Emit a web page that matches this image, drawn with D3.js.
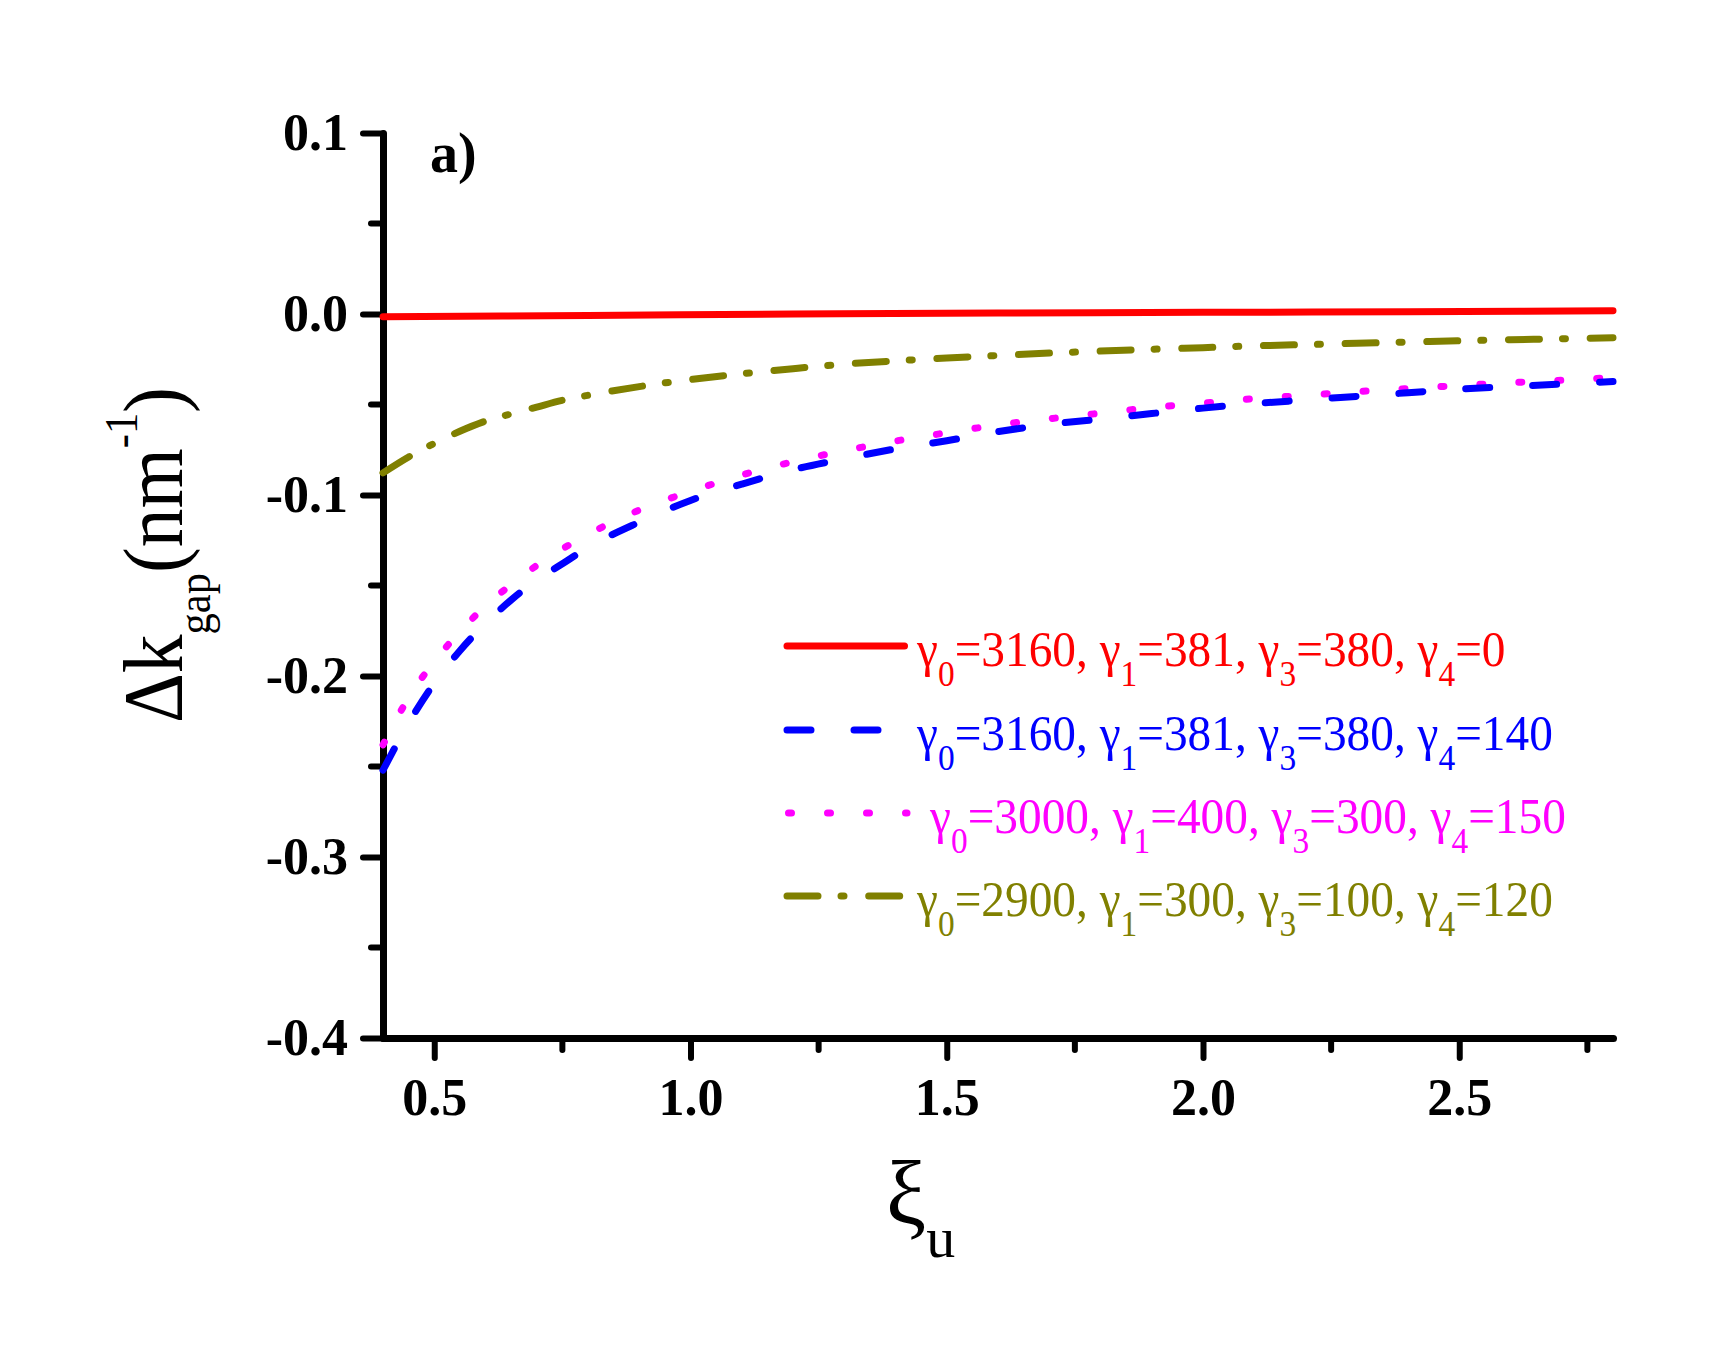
<!DOCTYPE html>
<html lang="en">
  <head>
    <meta charset="utf-8" />
    <script type="text/javascript" src="https://d3js.org/d3.v7.min.js"></script>
    <style>
      body { margin: 0; background: #fff; }
    </style>
  </head>

  <body>
    <script type="text/javascript">
      let w = 1709;
      let h = 1365;

      // xi grid (xi_u) and the curves
      let xi = [
        0.4, 0.45, 0.5, 0.55, 0.6, 0.65, 0.7, 0.75, 0.8, 0.9, 1.0, 1.1, 1.2,
        1.3, 1.4, 1.5, 1.6, 1.7, 1.8, 1.9, 2.0, 2.1, 2.2, 2.3, 2.4, 2.5, 2.6,
        2.7, 2.8,
      ];
      let redX = [0.4, 0.8, 1.2, 1.6, 2.0, 2.4, 2.8];
      let redY = [-0.0015, -0.0008, 0.0, 0.0005, 0.0009, 0.0013, 0.0018];
      let blueY = [
        -0.252, -0.226, -0.204, -0.186, -0.171, -0.158, -0.147, -0.138, -0.129,
        -0.115, -0.103, -0.094, -0.086, -0.08, -0.0745, -0.07, -0.065, -0.061,
        -0.058, -0.055, -0.052, -0.0495, -0.0475, -0.0455, -0.0435, -0.0415,
        -0.0401, -0.0387, -0.0373,
      ];
      let magentaY = [
        -0.238, -0.212, -0.192, -0.1756, -0.1612, -0.1495, -0.1389, -0.1298,
        -0.1218, -0.1083, -0.098, -0.089, -0.0816, -0.0755, -0.0702, -0.0656,
        -0.0613, -0.0579, -0.0548, -0.0517, -0.0492, -0.0468, -0.0449, -0.0429,
        -0.0412, -0.0395, -0.038, -0.0366, -0.0352,
      ];
      let oliveY = [
        -0.0878, -0.079, -0.0715, -0.0648, -0.0592, -0.0552, -0.0514, -0.0477,
        -0.0449, -0.0401, -0.0362, -0.033, -0.0302, -0.0277, -0.0259, -0.0243,
        -0.0229, -0.0216, -0.0205, -0.0195, -0.0186, -0.0176, -0.0169, -0.0162,
        -0.0155, -0.0148, -0.0142, -0.0137, -0.0131,
      ];

      let xTicks = [0.5, 1.0, 1.5, 2.0, 2.5];
      let xMinor = [0.75, 1.25, 1.75, 2.25, 2.75];
      let yTicks = [0.1, 0.0, -0.1, -0.2, -0.3, -0.4];
      let yMinor = [0.05, -0.05, -0.15, -0.25, -0.35];

      // legend parameters
      let gamma0 = [3160, 3160, 3000, 2900];
      let gamma1 = [381, 381, 400, 300];
      let gamma3 = [380, 380, 300, 100];
      let gamma4 = [0, 140, 150, 120];
      let colors = ["#ff0000", "#0000ff", "#ff00ff", "#808000"];
      let dashes = [null, "24 43", "3 36", "31 23 3 24.7"];

      let serif = "'Liberation Serif', 'Times New Roman', serif";

      let svg = d3
        .select("body")
        .append("svg")
        .attr("width", w)
        .attr("height", h)
        .style("background", "#fff");

      let x = d3.scaleLinear().domain([0.4, 2.8]).range([383, 1613]);
      let y = d3.scaleLinear().domain([-0.4, 0.1]).range([1038, 133]);

      // x axis
      let gx = svg
        .append("g")
        .attr("transform", "translate(0," + y(-0.4) + ")")
        .call(
          d3
            .axisBottom(x)
            .tickValues(xTicks)
            .tickFormat(d3.format(".1f"))
            .tickSize(20)
            .tickSizeOuter(0)
        );
      gx.selectAll(".tick text").attr("y", 77).attr("dy", 0);
      gx.selectAll(".minor")
        .data(xMinor)
        .enter()
        .append("line")
        .attr("class", "minor")
        .attr("x1", (d) => x(d))
        .attr("x2", (d) => x(d))
        .attr("y1", 0)
        .attr("y2", 12)
        .attr("stroke", "#000");

      // y axis
      let gy = svg
        .append("g")
        .attr("transform", "translate(" + x(0.4) + ",0)")
        .call(
          d3
            .axisLeft(y)
            .tickValues(yTicks)
            .tickFormat(d3.format(".1f"))
            .tickSize(20)
            .tickSizeOuter(0)
            .tickPadding(15)
        );
      gy.selectAll(".minor")
        .data(yMinor)
        .enter()
        .append("line")
        .attr("class", "minor")
        .attr("x1", 0)
        .attr("x2", -12)
        .attr("y1", (d) => y(d))
        .attr("y2", (d) => y(d))
        .attr("stroke", "#000");

      [gx, gy].forEach((g) => {
        g.select(".domain")
          .attr("stroke-width", 7)
          .attr("stroke-linecap", "round");
        g.selectAll("line")
          .attr("stroke-width", 6)
          .attr("stroke-linecap", "round");
        g.selectAll("text")
          .attr("font-family", serif)
          .attr("font-weight", "bold")
          .attr("font-size", 52)
          .attr("fill", "#000");
      });
      gy.selectAll(".tick text").text((d) => d3.format(".1f")(d).replace("−", "-"));

      // curves
      let line = d3
        .line()
        .x((d) => x(d[0]))
        .y((d) => y(d[1]))
        .curve(d3.curveMonotoneX);

      let series = [
        d3.zip(redX, redY),
        d3.zip(xi, blueY),
        d3.zip(xi, magentaY),
        d3.zip(xi, oliveY),
      ];
      // red drawn last so it sits on top
      [3, 2, 1, 0].forEach((i) => {
        svg
          .append("path")
          .attr("d", line(series[i]))
          .attr("fill", "none")
          .attr("stroke", colors[i])
          .attr("stroke-width", 7)
          .attr("stroke-linecap", "round")
          .attr("stroke-dasharray", dashes[i]);
      });

      // panel label
      svg
        .append("text")
        .attr("x", 430)
        .attr("y", 172)
        .attr("font-family", serif)
        .attr("font-weight", "bold")
        .attr("font-size", 56)
        .text("a)");

      // y title
      let yt = svg
        .append("text")
        .attr("font-family", serif)
        .attr("font-size", 84)
        .attr("fill", "#000");
      yt.append("tspan").text("\u0394k");
      yt.append("tspan").attr("font-size", 46).attr("dy", 28).text("gap");
      yt.append("tspan").attr("dy", -28).text("(nm");
      yt.append("tspan").attr("font-size", 46).attr("dy", -45).text("-1");
      yt.append("tspan").attr("dy", 45).text(")");
      let ytLen = yt.node().getComputedTextLength();
      yt.attr(
        "transform",
        "translate(182,723) rotate(-90) scale(" + 336 / ytLen + ",1)"
      );

      // x title
      let xt = svg
        .append("text")
        .attr("x", 886)
        .attr("y", 1224)
        .attr("font-family", serif)
        .attr("font-size", 90)
        .attr("fill", "#000");
      xt.append("tspan").text("\u03be");
      xt.append("tspan").attr("font-size", 58).attr("dy", 33).text("u");

      // legend
      let legendY = [646, 730, 813, 896];
      let legendTextX = [917, 917, 930, 917];
      let legendEnd = [904.5, 880, 907, 900];

      let rows = [];
      colors.forEach((c, i) => {
        svg
          .append("line")
          .attr("x1", i === 2 ? 788.5 : 787)
          .attr("x2", legendEnd[i])
          .attr("y1", legendY[i])
          .attr("y2", legendY[i])
          .attr("stroke", c)
          .attr("stroke-width", 7)
          .attr("stroke-linecap", "round")
          .attr("stroke-dasharray", dashes[i]);

        let g = svg
          .append("g")
          .attr("transform", "translate(" + legendTextX[i] + "," + (legendY[i] + 20) + ")");
        let t = g
          .append("text")
          .attr("font-family", serif)
          .attr("font-size", 51)
          .attr("fill", c);
        let parts = [
          ["0", gamma0[i]],
          ["1", gamma1[i]],
          ["3", gamma3[i]],
          ["4", gamma4[i]],
        ];
        parts.forEach((p, k) => {
          t.append("tspan").text((k === 0 ? "" : ", ") + "\u03b3");
          t.append("tspan").attr("font-size", 36).attr("dy", 20).text(p[0]);
          t.append("tspan").attr("dy", -20).text("=" + p[1]);
        });
        rows.push(g);
      });
      // fit the legend text to the original width (blue row spans 636 px)
      let sx = 636 / rows[1].select("text").node().getComputedTextLength();
      rows.forEach((g) => {
        g.attr("transform", g.attr("transform") + " scale(" + sx + ",1)");
      });
    </script>
  </body>
</html>
